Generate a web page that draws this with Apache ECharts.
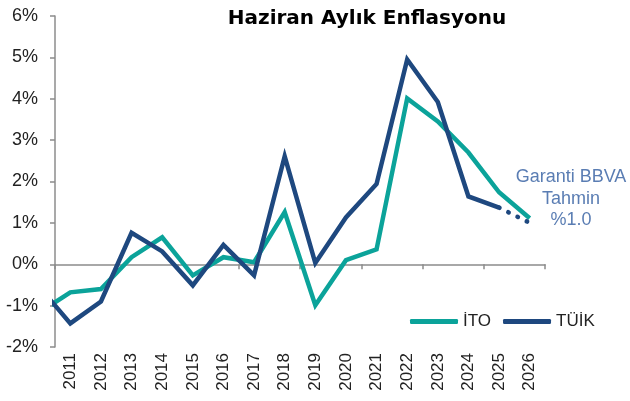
<!DOCTYPE html>
<html>
<head>
<meta charset="utf-8">
<script src="https://cdn.jsdelivr.net/npm/echarts@6/dist/echarts.min.js"></script>
<style>
  html, body { margin: 0; padding: 0; background: #fff; }
  #chart { width: 630px; height: 401px; }
</style>
</head>
<body>
<div id="chart"></div>
<script>
// years shown on the axis
var years = ['2011', '2012', '2013', '2014', '2015', '2016', '2017', '2018',
             '2019', '2020', '2021', '2022', '2023', '2024', '2025', '2026'];
// 2010 point is kept so the line enters from the axis edge (clipped)
var dataYears = [2010, 2011, 2012, 2013, 2014, 2015, 2016, 2017, 2018,
                 2019, 2020, 2021, 2022, 2023, 2024, 2025, 2026];
var ito  = [-1.16, -0.68, -0.60, 0.17, 0.65, -0.27, 0.17, 0.05, 1.26,
            -0.99, 0.10, 0.36, 4.01, 3.45, 2.70, 1.74, 1.11];
var tuik = [-0.56, -1.43, -0.90, 0.76, 0.31, -0.51, 0.47, -0.27, 2.61,
            0.03, 1.13, 1.94, 4.95, 3.92, 1.64, 1.37, null];
var tuikForecast = [[2025, 1.37], [2026, 1.0]];
var yTicks = [-2, -1, 0, 1, 2, 3, 4, 5, 6];

var teal = '#0ba39a';
var navy = '#1e487f';
var axisGray = '#8c8c8c';
var font = 'Liberation Sans';

var gridTop = 16, gridBottom = 54, H = 401;
// zero line position, so the tick-axis grid ends exactly on it
var yMin = yTicks[0], yMax = yTicks[yTicks.length - 1];
var plotH = H - gridTop - gridBottom;
var zeroY = gridTop + plotH * yMax / (yMax - yMin);

function pairs(xs, ys) {
  return xs.map(function (x, i) { return [x, ys[i]]; });
}

var chart = echarts.init(document.getElementById('chart'));
chart.setOption({
  animation: false,
  textStyle: { fontFamily: font },
  grid: [
    { left: 55, right: 85, top: gridTop, bottom: gridBottom, containLabel: false },
    { left: 55, right: 85, top: gridTop, bottom: H - zeroY, containLabel: false }
  ],
  legend: {
    data: ['İTO', 'TÜİK'],
    left: 405, top: 308,
    icon: 'roundRect',
    itemWidth: 48, itemHeight: 5,
    itemGap: 12,
    textStyle: { fontSize: 17, color: '#222', fontFamily: font }
  },
  xAxis: [
    { // data axis, hidden
      gridIndex: 0, type: 'value', min: 2010.5, max: 2026.5, show: false
    },
    { // labels at the bottom
      gridIndex: 0, type: 'category', data: years, position: 'bottom',
      axisLine: { show: false },
      axisTick: { show: false },
      axisLabel: { rotate: 90, margin: 6, fontSize: 17, color: '#222', fontFamily: font },
      splitLine: { show: false }
    },
    { // line and ticks on the zero level
      gridIndex: 1, type: 'category', data: years, position: 'bottom', z: 5,
      axisLine: { show: true, lineStyle: { color: axisGray, width: 1.5 } },
      axisTick: { show: true, length: 5, lineStyle: { color: axisGray, width: 1.5 } },
      axisLabel: { show: false },
      splitLine: { show: false }
    }
  ],
  yAxis: [
    {
      gridIndex: 0, type: 'value', min: yMin, max: yMax, interval: 1, z: 5,
      axisLine: { show: true, lineStyle: { color: axisGray, width: 1.5 } },
      axisTick: { show: true, length: 5, lineStyle: { color: axisGray, width: 1.5 } },
      axisLabel: { formatter: '{value}%', fontSize: 18, color: '#222', margin: 17, fontFamily: font },
      splitLine: { show: false }
    },
    {
      gridIndex: 1, type: 'value', min: 0, max: 1,
      axisLine: { show: false }, axisTick: { show: false },
      axisLabel: { show: false }, splitLine: { show: false }
    }
  ],
  series: [
    {
      name: 'İTO', type: 'line', xAxisIndex: 0, yAxisIndex: 0, data: pairs(dataYears, ito),
      showSymbol: false, symbol: 'none', clip: true, z: 6,
      lineStyle: { color: teal, width: 4.5, join: 'miter' },
      itemStyle: { color: teal }
    },
    {
      name: 'TÜİK', type: 'line', xAxisIndex: 0, yAxisIndex: 0, data: pairs(dataYears, tuik),
      showSymbol: false, symbol: 'none', clip: true, z: 7,
      lineStyle: { color: navy, width: 4.5, join: 'miter' },
      itemStyle: { color: navy }
    },
    {
      name: 'TÜİK tahmin', type: 'line', xAxisIndex: 0, yAxisIndex: 0, data: tuikForecast,
      showSymbol: false, symbol: 'none', z: 7,
      lineStyle: { color: navy, width: 4.5, type: [0.5, 9.8], cap: 'round' },
      itemStyle: { color: navy }
    }
  ],
  graphic: [
    {
      type: 'text',
      x: 367, y: 19,
      style: {
        text: 'Haziran Aylık Enflasyonu', fill: '#000',
        font: 'bold 20px DejaVu Sans', align: 'center', verticalAlign: 'middle'
      }
    },
    {
      type: 'text',
      x: 571, y: 199,
      style: {
        text: 'Garanti BBVA\nTahmin\n%1.0', fill: '#5a7db3',
        font: '18px ' + font, align: 'center', verticalAlign: 'middle',
        lineHeight: 21.5
      }
    }
  ]
});
</script>
</body>
</html>
